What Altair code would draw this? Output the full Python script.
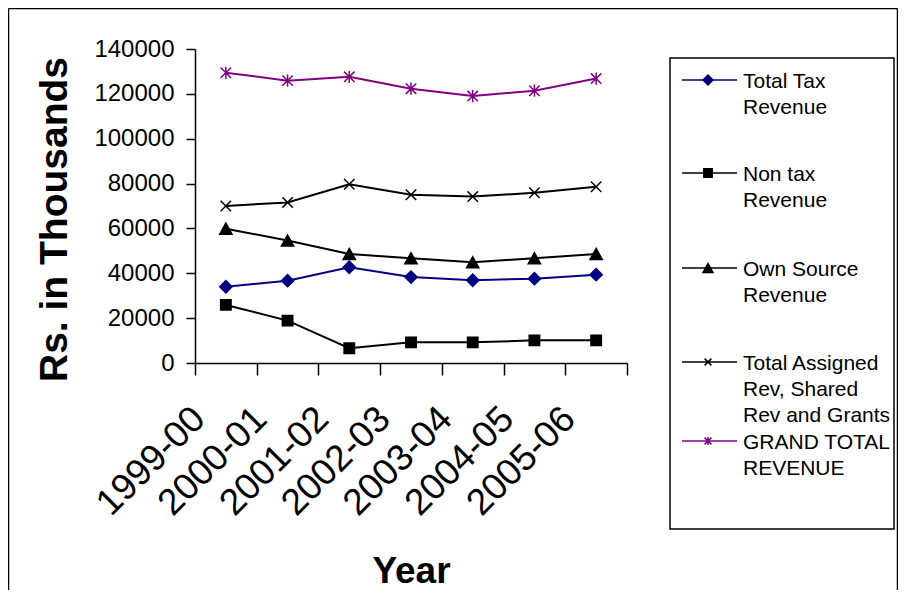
import altair as alt
import pandas as pd

years = ["1999-00", "2000-01", "2001-02", "2002-03", "2003-04", "2004-05", "2005-06"]
series_names = [
    "Total Tax Revenue",
    "Non tax Revenue",
    "Own Source Revenue",
    "Total Assigned Rev, Shared Rev and Grants",
    "GRAND TOTAL REVENUE",
]
legend_labels = [
    "Total Tax\nRevenue",
    "Non tax\nRevenue",
    "Own Source\nRevenue",
    "Total Assigned\nRev, Shared\nRev and Grants",
    "GRAND TOTAL\nREVENUE",
]
total_tax = [34000, 36700, 42700, 38300, 36900, 37600, 39400]
non_tax = [25900, 18900, 6600, 9200, 9200, 10100, 10100]
own_source = [59900, 54600, 48600, 46700, 44900, 46700, 48600]
total_assigned = [70000, 71600, 79700, 75000, 74200, 75900, 78600]
grand_total = [129400, 125900, 127600, 122300, 119000, 121400, 126800]
series_values = [total_tax, non_tax, own_source, total_assigned, grand_total]
series_colors = ["#000080", "#000000", "#000000", "#000000", "#800080"]
y_ticks = [0, 20000, 40000, 60000, 80000, 100000, 120000, 140000]

FONT = "Liberation Sans, Arial, sans-serif"

rows = []
for name, vals in zip(series_names, series_values):
    for yr, v in zip(years, vals):
        rows.append({"year": yr, "series": name, "value": v})
df = pd.DataFrame(rows)
legend_df = pd.DataFrame(
    {"series": series_names, "label": legend_labels, "slot": list(range(len(series_names)))}
)

marker_paths = [
    "M-1,0L0,-1L1,0L0,1Z",
    "M-0.85,-0.85H0.85V0.85H-0.85Z",
    "M0,-0.9L1,0.9H-1Z",
    "M-0.85,-0.85L0.85,0.85M-0.85,0.85L0.85,-0.85",
    "M-0.85,-0.85L0.85,0.85M-0.85,0.85L0.85,-0.85M0,-1L0,1",
]
filled_flags = [True, True, True, False, False]

x_enc = alt.X(
    "year:O",
    bandPosition=0.5,
    scale=alt.Scale(type="band", domain=years, paddingInner=0, paddingOuter=0),
    axis=alt.Axis(
        title="Year",
        labelAngle=-45,
        labelAlign="right",
        labelBaseline="middle",
        labelFont=FONT,
        labelFontSize=37,
        labelColor="black",
        labelPadding=38,
        labelOffset=-27,
        labelOverlap=False,
        labelLimit=400,
        tickBand="extent",
        tickSize=12,
        tickColor="black",
        tickWidth=1.5,
        domainColor="black",
        domainWidth=1.5,
        grid=False,
        titleFont=FONT,
        titleFontSize=37,
        titleFontWeight="bold",
        titleColor="black",
        titleY=219,
        titleBaseline="alphabetic",
    ),
)
y_enc = alt.Y(
    "value:Q",
    scale=alt.Scale(domain=[0, 140000], nice=False, zero=True),
    axis=alt.Axis(
        title="Rs. in Thousands",
        values=y_ticks,
        format="d",
        labelFont=FONT,
        labelFontSize=24,
        labelColor="black",
        labelPadding=12,
        tickSize=9,
        tickColor="black",
        tickWidth=1.5,
        domainColor="black",
        domainWidth=1.5,
        grid=False,
        titleFont=FONT,
        titleFontSize=39,
        titleFontWeight="bold",
        titleColor="black",
        titleX=-141,
        titleY=170,
        titleBaseline="middle",
        titleAlign="center",
    ),
)

color_scale = alt.Scale(domain=series_names, range=series_colors)

lines = alt.Chart(df).mark_line(strokeWidth=2).encode(
    x=x_enc,
    y=y_enc,
    color=alt.Color("series:N", scale=color_scale, legend=None),
)

marker_layers = []
for name, path, col, filled in zip(series_names, marker_paths, series_colors, filled_flags):
    marker_layers.append(
        alt.Chart(df)
        .transform_filter(alt.datum.series == name)
        .mark_point(
            shape=path,
            size=150,
            filled=True,
            fill=col if filled else "transparent",
            stroke=col,
            strokeWidth=1.5,
            opacity=1,
        )
        .encode(x=x_enc, y=y_enc)
    )

main = alt.layer(lines, *marker_layers)

# ---- legend (entries placed through a scale over the entry slot) ----
leg_y = alt.Y(
    "slot:Q",
    scale=alt.Scale(domain=[0, 1, 2, 3, 4], range=[31, 124, 219, 313, 392], nice=False, zero=False),
    axis=None,
)
leg_lines = alt.Chart(legend_df).mark_rule(strokeWidth=1.5).encode(
    x=alt.value(487),
    x2=alt.value(542),
    y=leg_y,
    color=alt.Color("series:N", scale=color_scale, legend=None),
)
leg_markers = []
for name, path, col, filled in zip(series_names, marker_paths, series_colors, filled_flags):
    leg_markers.append(
        alt.Chart(legend_df)
        .transform_filter(alt.datum.series == name)
        .mark_point(
            shape=path,
            size=100 if filled else 64,
            filled=True,
            fill=col if filled else "transparent",
            stroke=col,
            strokeWidth=1.5,
            opacity=1,
        )
        .encode(x=alt.value(513), y=leg_y)
    )
leg_text = alt.Chart(legend_df).mark_text(
    align="left",
    baseline="top",
    dy=-9,
    lineBreak="\n",
    lineHeight=26,
    font=FONT,
    fontSize=21,
    color="black",
).encode(x=alt.value(548), y=leg_y, text="label:N")

legend = alt.layer(leg_lines, *leg_markers, leg_text)

# ---- chart-area border and legend box ----
one = pd.DataFrame({"k": [0]})
legend_box = alt.Chart(one).mark_rect(fill="transparent", stroke="black", strokeWidth=1.5).encode(
    x=alt.value(475), x2=alt.value(699), y=alt.value(9), y2=alt.value(480)
)
border_left = alt.Chart(one).mark_rule(color="black", strokeWidth=1.5).encode(
    x=alt.value(-186.5), y=alt.value(-40.5), y2=alt.value(545)
)
border_top = alt.Chart(one).mark_rule(color="black", strokeWidth=1.5).encode(
    x=alt.value(-186.5), x2=alt.value(702.5), y=alt.value(-40.5)
)
border_right = alt.Chart(one).mark_rule(color="black", strokeWidth=1.5).encode(
    x=alt.value(702.5), y=alt.value(-40.5), y2=alt.value(545)
)

chart = (
    alt.layer(border_left, border_top, border_right, legend_box, main, legend)
    .resolve_scale(y="independent")
    .properties(
        width=432,
        height=314,
        padding={"left": 187, "top": 41, "right": 271, "bottom": 227},
        autosize=alt.AutoSizeParams(type="none"),
        background="white",
    )
    .configure_view(stroke=None)
)

chart.save("out.html", embed_options={"renderer": "svg", "actions": False})
